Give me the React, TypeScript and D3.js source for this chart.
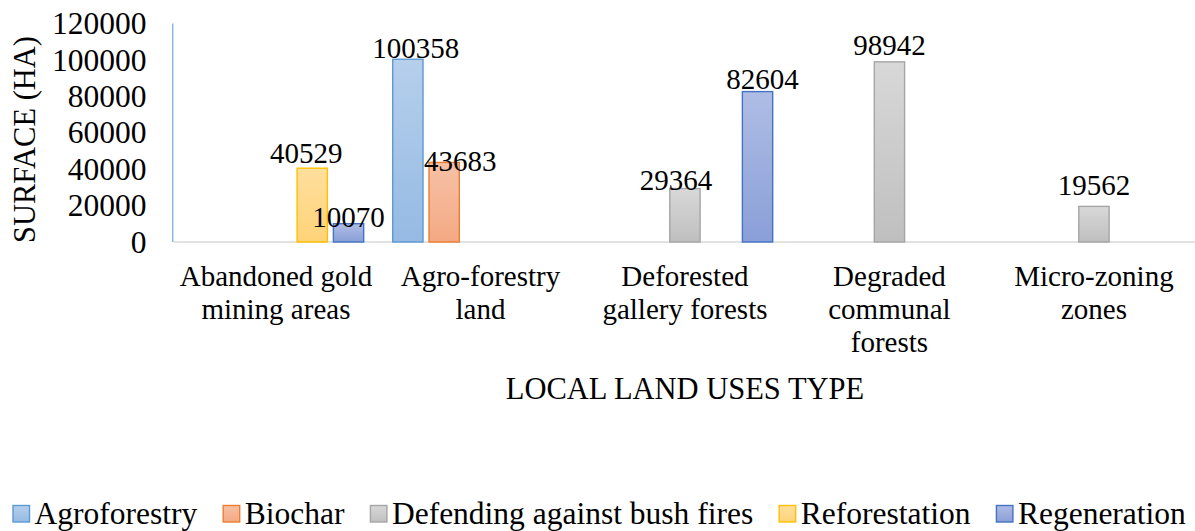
import React, { useEffect, useRef } from "react";
import * as d3 from "d3";

const categories = [
  "Abandoned gold mining areas",
  "Agro-forestry land",
  "Deforested gallery forests",
  "Degraded communal forests",
  "Micro-zoning zones",
];
const categoryLines = [
  ["Abandoned gold", "mining areas"],
  ["Agro-forestry", "land"],
  ["Deforested", "gallery forests"],
  ["Degraded", "communal", "forests"],
  ["Micro-zoning", "zones"],
];
const seriesNames = [
  "Agroforestry",
  "Biochar",
  "Defending against bush fires",
  "Reforestation",
  "Regeneration",
];
const agroforestry = [null, 100358, null, null, null];
const biochar = [null, 43683, null, null, null];
const defending = [null, null, 29364, 98942, 19562];
const reforestation = [40529, null, null, null, null];
const regeneration = [10070, null, 82604, null, null];
const seriesValues = [agroforestry, biochar, defending, reforestation, regeneration];
const yTicks = [0, 20000, 40000, 60000, 80000, 100000, 120000];

// styling
const seriesStyle = [
  { top: "#B6CFEC", bottom: "#95BAE3", stroke: "#5B9BD5" },
  { top: "#F7C1A6", bottom: "#F3A983", stroke: "#ED7D31" },
  { top: "#D8D8D8", bottom: "#BFBFBF", stroke: "#A5A5A5" },
  { top: "#FFDF9E", bottom: "#FFD378", stroke: "#FFC000" },
  { top: "#AFBDE5", bottom: "#8A9FD8", stroke: "#4472C4" },
];
// label nudges (dx, baseline offset from bar top), keyed by "cat|series"
const labelNudge: Record<string, [number, number]> = {
  "0|3": [-6, -5],
  "0|4": [0, 3],
  "1|0": [8, -1],
  "1|1": [16, 9],
  "2|2": [-9, 1],
  "2|4": [5, -3],
  "3|2": [0, -7],
  "4|2": [0, -11],
};

const W = 1195;
const H = 531;
const FONT = "Liberation Serif, DejaVu Serif, serif";

export default function App() {
  const ref = useRef<SVGSVGElement>(null);
  useEffect(() => {
    const svg = d3.select(ref.current);
    svg.selectAll("*").remove();
    svg.style("font-family", FONT);

    const left = 173.7;
    const right = 1196.2;
    const y0 = 242;
    const yTop = 23.5;

    const x0 = d3.scaleBand().domain(categories).range([left, right]).padding(0);
    const x1 = d3
      .scaleBand()
      .domain(seriesNames)
      .range([0, x0.bandwidth()])
      .paddingInner(0.165)
      .paddingOuter(0.4);
    const y = d3.scaleLinear().domain([0, 120000]).range([y0, yTop]);

    const defs = svg.append("defs");
    seriesStyle.forEach((s, i) => {
      const g = defs
        .append("linearGradient")
        .attr("id", "grad" + i)
        .attr("x1", 0)
        .attr("y1", 0)
        .attr("x2", 0)
        .attr("y2", 1);
      g.append("stop").attr("offset", "0%").attr("stop-color", s.top);
      g.append("stop").attr("offset", "100%").attr("stop-color", s.bottom);
    });

    // y tick labels
    svg
      .append("g")
      .selectAll("text")
      .data(yTicks)
      .join("text")
      .attr("x", 146.5)
      .attr("y", (d) => y(d))
      .attr("dy", "0.34em")
      .attr("text-anchor", "end")
      .style("font-family", FONT)
      .attr("font-size", 31.5)
      .attr("fill", "#000")
      .text((d) => String(d));

    // baseline
    svg
      .append("line")
      .attr("x1", left)
      .attr("x2", W)
      .attr("y1", y0)
      .attr("y2", y0)
      .attr("stroke", "#D9D9D9")
      .attr("stroke-width", 1.5);

    // bars
    const bars: { c: number; s: number; v: number }[] = [];
    seriesValues.forEach((arr, s) =>
      arr.forEach((v, c) => {
        if (v != null) bars.push({ c, s, v });
      })
    );
    const barG = svg.append("g");
    barG
      .selectAll("rect")
      .data(bars)
      .join("rect")
      .attr("x", (d) => (x0(categories[d.c]) as number) + (x1(seriesNames[d.s]) as number))
      .attr("y", (d) => y(d.v))
      .attr("width", x1.bandwidth())
      .attr("height", (d) => y0 - y(d.v))
      .attr("fill", (d) => `url(#grad${d.s})`)
      .attr("stroke", (d) => seriesStyle[d.s].stroke)
      .attr("stroke-width", 1.4);

    // y axis line
    svg
      .append("line")
      .attr("x1", left - 1)
      .attr("x2", left - 1)
      .attr("y1", yTop)
      .attr("y2", y0)
      .attr("stroke", "#8DB5E2")
      .attr("stroke-width", 1.5);

    // data labels
    svg
      .append("g")
      .selectAll("text")
      .data(bars)
      .join("text")
      .attr("x", (d) => {
        const n = labelNudge[d.c + "|" + d.s] || [0, -6];
        return (x0(categories[d.c]) as number) + (x1(seriesNames[d.s]) as number) + x1.bandwidth() / 2 + n[0];
      })
      .attr("y", (d) => {
        const n = labelNudge[d.c + "|" + d.s] || [0, -6];
        return y(d.v) + n[1];
      })
      .attr("text-anchor", "middle")
      .style("font-family", FONT)
      .attr("font-size", 29)
      .attr("fill", "#000")
      .text((d) => String(d.v));

    // category labels
    const catG = svg.append("g");
    categories.forEach((c, i) => {
      const cx = (x0(c) as number) + x0.bandwidth() / 2;
      catG
        .append("text")
        .attr("text-anchor", "middle")
        .style("font-family", FONT)
        .attr("font-size", 29)
        .attr("fill", "#000")
        .selectAll("tspan")
        .data(categoryLines[i])
        .join("tspan")
        .attr("x", cx)
        .attr("y", (_d, j) => 286 + j * 33)
        .text((d) => d);
    });

    // axis titles
    svg
      .append("text")
      .attr("x", (left + right) / 2)
      .attr("y", 399)
      .attr("text-anchor", "middle")
      .style("font-family", FONT)
      .attr("font-size", 30.5)
      .attr("fill", "#000")
      .text("LOCAL LAND USES TYPE");
    svg
      .append("text")
      .attr("transform", "translate(35,139.5) rotate(-90)")
      .attr("text-anchor", "middle")
      .style("font-family", FONT)
      .attr("font-size", 30.5)
      .attr("fill", "#000")
      .text("SURFACE (HA)");

    // legend
    const legG = svg.append("g");
    let lx = 13;
    seriesNames.forEach((name, i) => {
      legG
        .append("rect")
        .attr("x", lx)
        .attr("y", 505.5)
        .attr("width", 16.5)
        .attr("height", 16.5)
        .attr("fill", `url(#grad${i})`)
        .attr("stroke", seriesStyle[i].stroke)
        .attr("stroke-width", 1.4);
      const t = legG
        .append("text")
        .attr("x", lx + 21.5)
        .attr("y", 523.5)
        .style("font-family", FONT)
        .attr("font-size", 31.5)
        .attr("fill", "#000")
        .text(name);
      const w = (t.node() as SVGTextElement).getComputedTextLength();
      lx = lx + 21.5 + w + 26;
    });
  }, []);

  return (
    <svg
      ref={ref}
      width={W}
      height={H}
      style={{ position: "absolute", left: 0, top: 0, background: "#fff" }}
    />
  );
}
